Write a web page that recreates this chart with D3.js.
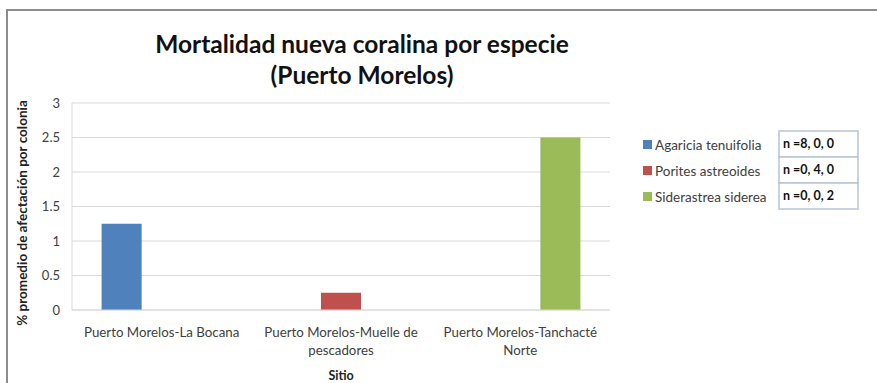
<!DOCTYPE html>
<html>
<head>
<meta charset="utf-8">
<script src="https://cdn.jsdelivr.net/npm/d3@7"></script>
<style>
  html, body { margin: 0; padding: 0; background: #fff; }
  svg { display: block; font-family: Lato, "Open Sans", sans-serif; }
</style>
</head>
<body>
<svg id="chart" width="877" height="383"></svg>
<script>
// Sites (x categories), with line breaks for the wrapped labels
const sites = ["Puerto Morelos-La Bocana", "Puerto Morelos-Muelle de pescadores", "Puerto Morelos-Tanchacté Norte"];
const siteLines = [["Puerto Morelos-La Bocana"], ["Puerto Morelos-Muelle de", "pescadores"], ["Puerto Morelos-Tanchacté", "Norte"]];

// Species series
const species = ["Agaricia tenuifolia", "Porites astreoides", "Siderastrea siderea"];
const agaricia = [1.25, 0, 0];
const porites = [0, 0.25, 0];
const siderastrea = [0, 0, 2.5];
const sampleSizes = ["n =8, 0, 0", "n =0, 4, 0", "n =0, 0, 2"];
const colors = ["#4f81bd", "#c0504d", "#9bbb59"];
const yTicks = [0, 0.5, 1, 1.5, 2, 2.5, 3];

const seriesValues = [agaricia, porites, siderastrea];

const svg = d3.select("#chart");

// outer chart frame
svg.append("path")
  .attr("d", "M7,400 L7,10 L900,10")
  .attr("fill", "none").attr("stroke", "#8c8c8c").attr("stroke-width", 2);

const plot = { left: 72, right: 610, top: 103, bottom: 310 };

const x0 = d3.scaleBand().domain(sites).range([plot.left, plot.right]).paddingInner(0.33).paddingOuter(0.165);
const x1 = d3.scaleBand().domain(species).range([0, x0.bandwidth()]);
const y = d3.scaleLinear().domain([0, 3]).range([plot.bottom, plot.top]);

// gridlines
svg.append("g").selectAll("line").data(yTicks).join("line")
  .attr("x1", plot.left).attr("x2", plot.right)
  .attr("y1", d => y(d)).attr("y2", d => y(d))
  .attr("stroke", "#d9d9d9").attr("stroke-width", 1);

// y axis line
svg.append("line").attr("x1", plot.left).attr("x2", plot.left)
  .attr("y1", plot.top).attr("y2", plot.bottom)
  .attr("stroke", "#d9d9d9");

// bars
const groups = svg.append("g").selectAll("g").data(sites).join("g")
  .attr("transform", d => `translate(${x0(d)},0)`);
groups.selectAll("rect")
  .data((site, i) => species.map((sp, j) => ({ sp, j, v: seriesValues[j][i] })).filter(d => d.v > 0))
  .join("rect")
  .attr("x", d => x1(d.sp))
  .attr("width", x1.bandwidth())
  .attr("y", d => y(d.v))
  .attr("height", d => y(0) - y(d.v))
  .attr("fill", d => colors[d.j]);

// y axis
const yAxis = d3.axisLeft(y).tickValues(yTicks).tickSize(0).tickPadding(12).tickFormat(d3.format("~g"));
const yg = svg.append("g").attr("transform", `translate(${plot.left},0)`).call(yAxis);
yg.select(".domain").remove();
yg.selectAll("text").attr("font-size", 13).attr("fill", "#404040").attr("font-family", "Lato, sans-serif");

// x axis labels
const xg = svg.append("g");
sites.forEach((s, i) => {
  const cx = x0(s) + x0.bandwidth() / 2;
  const t = xg.append("text").attr("text-anchor", "middle").attr("font-size", 13.3).attr("fill", "#404040");
  siteLines[i].forEach((ln, k) => {
    t.append("tspan").attr("x", cx).attr("y", 337 + k * 18).text(ln);
  });
});
svg.append("line").attr("x1", plot.left).attr("x2", plot.right)
  .attr("y1", plot.bottom).attr("y2", plot.bottom).attr("stroke", "#d9d9d9");

// axis titles
svg.append("text").attr("x", 341).attr("y", 380).attr("text-anchor", "middle")
  .attr("font-size", 12.5).attr("font-weight", "bold").attr("fill", "#222").text("Sitio");
svg.append("text").attr("transform", "translate(27,213) rotate(-90)").attr("text-anchor", "middle")
  .attr("font-size", 13.5).attr("font-weight", "bold").attr("fill", "#222")
  .text("% promedio de afectación por colonia");

// title
const title = svg.append("text").attr("text-anchor", "middle").attr("font-size", 24.5).attr("font-weight", "bold").attr("fill", "#111");
title.append("tspan").attr("x", 362).attr("y", 53).text("Mortalidad nueva coralina por especie");
title.append("tspan").attr("x", 362).attr("y", 84).text("(Puerto Morelos)");

// legend
const leg = svg.append("g");
species.forEach((sp, i) => {
  const cy = 145 + i * 26;
  leg.append("rect").attr("x", 643).attr("y", cy - 5).attr("width", 9).attr("height", 9).attr("fill", colors[i]);
  leg.append("text").attr("x", 655).attr("y", cy + 4.5).attr("font-size", 13.5).attr("fill", "#404040").text(sp);
});

// sample size table
const tbl = svg.append("g");
sampleSizes.forEach((n, i) => {
  const top = 131 + i * 26;
  tbl.append("rect").attr("x", 779).attr("y", top).attr("width", 79).attr("height", 26)
    .attr("fill", "#fff").attr("stroke", "#b8c4d6").attr("stroke-width", 1.5);
  tbl.append("text").attr("x", 783).attr("y", top + 17).attr("font-size", 12.5).attr("font-weight", "bold")
    .attr("fill", "#111").text(n);
});
</script>
</body>
</html>
